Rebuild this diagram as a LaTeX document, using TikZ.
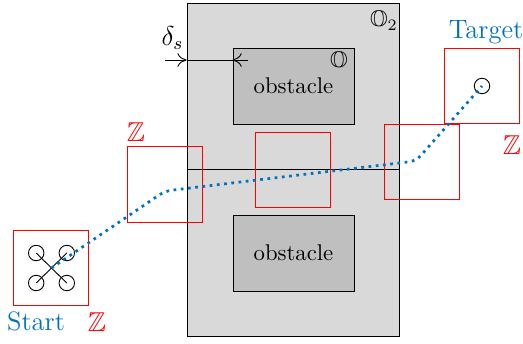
\documentclass[tikz,border=0pt]{standalone}
\usepackage{amsmath,amssymb}
\usetikzlibrary{arrows.meta,calc}
\definecolor{PathBlue}{HTML}{0072BD}
\definecolor{SafeGrey}{HTML}{D9D9D9}
\definecolor{ObstacleGrey}{HTML}{BFBFBF}
\tikzset{
  safebox/.style={draw=black,fill=SafeGrey,minimum width=93.3pt,minimum height=146.5pt,inner sep=0pt},
  obstaclebox/.style={draw=black,fill=ObstacleGrey,minimum width=53.2pt,minimum height=33.4pt,inner sep=0pt,font=\fontsize{10}{12}\selectfont},
  zonebox/.style={draw=red,line width=0.62pt,minimum size=33.2pt,inner sep=0pt},
  rotor/.style={draw=black,circle,minimum size=6.8pt,inner sep=0pt},
  zonelabel/.style={text=red,font=\fontsize{12}{14}\selectfont},
  bluelabel/.style={text=PathBlue,font=\fontsize{11.7}{14}\selectfont},
  flightpath/.style={PathBlue,line width=1.2pt,dotted,rounded corners=3pt}
}
\begin{document}
\begin{tikzpicture}[x=0.44pt,y=0.44pt]
  \useasboundingbox (0,0) rectangle (523,343);
  \node[safebox] (safe) at (293,173.5) {};
  \node[obstaclebox] (upper) at (293.5,257) {obstacle};
  \node[obstaclebox] (lower) at (293.5,90) {obstacle};
  \draw (safe.west |- 0,173.5) coordinate (midl) -- (safe.east |- midl);
  % red boxes along the flight
  \foreach \x/\y/\nm in {51/75/zstart,165/158.5/zleft,293/173/zmid,422/181/zright,482/257/ztarget}{
    \node[zonebox] (\nm) at (\x,\y) {};
  }
  % quadrotor
  \coordinate (quad) at (51.5,75);
  \foreach \dx/\dy/\nm in {-15.3/15/ra,15.3/15/rb,-15.3/-15/rc,15.3/-15/rd}{
    \node[rotor] (\nm) at ($(quad)+(\dx,\dy)$) {};
  }
  \draw (ra.center) -- (rd.center);
  \draw (rc.center) -- (rb.center);
  \node[rotor] (goal) at (482,257) {};
  % trajectory
  \coordinate (bendl) at (165,152);
  \coordinate (bendr) at (416,182);
  \draw[flightpath] (quad) -- (bendl) -- (bendr) -- (goal.center);
  % clearance
  \coordinate (diml) at (165,283);
  \coordinate (dimr) at (248,283);
  \draw (safe.west |- diml) -- (upper.west |- diml);
  \draw[-{To[length=4pt,width=6pt]}] (diml) -- (safe.west |- diml);
  \draw[-{To[length=4pt,width=6pt]}] (dimr) -- (upper.west |- diml);
  % labels
  \node[font=\fontsize{12}{14}\selectfont] (delta) at (172.5,305) {$\delta_s$};
  \node[font=\fontsize{10}{12}\selectfont] (setout) at (384,322) {$\mathbb{O}_2$};
  \node[font=\fontsize{10}{12}\selectfont] (setin) at (339,281) {$\mathbb{O}$};
  \node[bluelabel] (start) at (36,22) {Start};
  \node[bluelabel] (target) at (486,311) {Target};
  \node[zonelabel] (zla) at (97,21) {$\mathbb{Z}$};
  \node[zonelabel] (zlb) at (136,211) {$\mathbb{Z}$};
  \node[zonelabel] (zlc) at (512,198) {$\mathbb{Z}$};
\end{tikzpicture}
\end{document}
